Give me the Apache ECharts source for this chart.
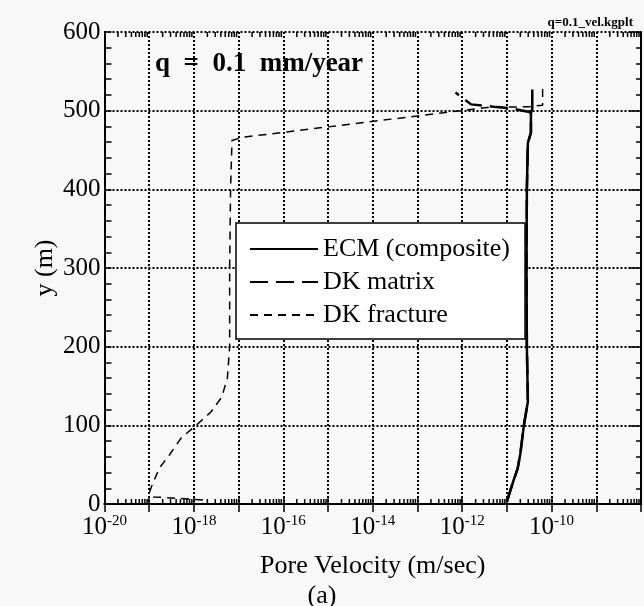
<!DOCTYPE html>
<html><head><meta charset="utf-8">
<script src="https://cdn.jsdelivr.net/npm/echarts@6/dist/echarts.min.js"></script>
<style>html,body{margin:0;padding:0;background:#f8f8f8}#c{width:644px;height:606px}</style>
</head><body><div id="c"></div>
<script>
// ---- data (pore velocity in m/sec, elevation y in m) ----
const ecmVelocity = [1.0e-11, 1.41e-11, 1.74e-11, 2.0e-11, 2.4e-11, 2.95e-11, 2.8e-11, 2.75e-11, 2.8e-11, 2.95e-11, 3.45e-11, 3.45e-11, 3.7e-11, 3.7e-11];
const ecmY        = [3, 30, 45, 64, 100, 130, 200, 300, 400, 459, 472, 497, 503, 527];

const matrixVelocity = [1.0e-11, 1.41e-11, 1.74e-11, 2.0e-11, 2.4e-11, 2.95e-11, 2.8e-11, 2.75e-11, 2.8e-11, 2.95e-11, 3.45e-11, 3.45e-11, 1.26e-11, 5.0e-12, 1.58e-12, 7.1e-13];
const matrixY        = [3, 30, 45, 64, 100, 130, 200, 300, 400, 459, 472, 498, 503, 505, 508, 523];

const fractureVelocity = [1.6e-18, 5.0e-19, 1.26e-19, 1.0e-19, 1.12e-19, 1.7e-19, 2.8e-19, 5.2e-19, 1.12e-18, 2.4e-18, 4.2e-18, 5.6e-18, 6.3e-18, 6.3e-18, 6.6e-18, 7.1e-18, 1.17e-17, 3.5e-12, 3.2e-11, 6.3e-11, 6.3e-11];
const fractureY        = [5, 7, 9, 14, 22, 46, 62, 84, 100, 117, 136, 160, 200, 300, 400, 462, 466, 504, 505, 507, 528];

const xMin = 1e-20, xMax = 1e-8;
const yTicks = [0, 100, 200, 300, 400, 500, 600];
const decadeExponents = [-20, -19, -18, -17, -16, -15, -14, -13, -12, -11, -10, -9];
const minorMultipliers = [2, 3, 4, 5, 6, 7, 8, 9];
const legendNames = ['ECM (composite)', 'DK matrix', 'DK fracture'];

const minorTicks = [];
decadeExponents.forEach(e => minorMultipliers.forEach(m => minorTicks.push([m * Math.pow(10, e), 0])));

const pair = (xs, ys) => xs.map((x, i) => [x, ys[i]]);
const FONT = 'Liberation Serif';
const chart = echarts.init(document.getElementById('c'), null, {renderer: 'canvas'});

const baseX = {
  type: 'log', logBase: 10, min: xMin, max: xMax, interval: 1,
  axisLine: {show: true, lineStyle: {color: '#000', width: 2}},
  axisTick: {show: true, inside: true, length: 8, lineStyle: {color: '#000', width: 1.5}},
  minorTick: {show: false}
};
const baseY = {
  type: 'value', min: yTicks[0], max: yTicks[yTicks.length - 1], interval: 100,
  axisLine: {show: true, lineStyle: {color: '#000', width: 2}},
  minorTick: {show: true, splitNumber: 5, length: 6, lineStyle: {color: '#000', width: 1.5}}
};

chart.setOption({
  backgroundColor: '#f8f8f8',
  animation: false,
  grid: {left: 104.5, top: 32, right: -2, bottom: 102, containLabel: false},
  title: [
    {text: '(a)', left: 'center', top: 578, textStyle: {fontFamily: FONT, fontSize: 26, fontWeight: 'normal', color: '#000'}},
    {text: 'q  =  0.1  mm/year', left: 150, top: 46, textStyle: {fontFamily: FONT, fontSize: 27, fontWeight: 'bold', color: '#000'}},
    {text: 'q=0.1_vel.kgplt', right: 6, top: 11, textStyle: {fontFamily: FONT, fontSize: 13, fontWeight: 'bold', color: '#000'}}
  ],
  legend: {
    data: legendNames, orient: 'vertical', left: 236, top: 223,
    backgroundColor: '#fff', borderColor: '#000', borderWidth: 1.5,
    padding: [13, 15, 11, 13], itemWidth: 68, itemHeight: 14, itemGap: 7,
    itemStyle: {color: 'rgba(0,0,0,0)', borderWidth: 0, borderColor: 'rgba(0,0,0,0)'},
    textStyle: {fontFamily: FONT, fontSize: 26, lineHeight: 26, color: '#000'},
    selectedMode: false
  },
  xAxis: [
    Object.assign({}, baseX, {
      position: 'bottom',
      name: 'Pore Velocity (m/sec)', nameLocation: 'middle', nameGap: 49, nameMoveOverlap: false,
      nameTextStyle: {fontFamily: FONT, fontSize: 26, color: '#000'},
      axisLabel: {
        show: true, margin: 10,
        formatter: v => {
          const e = Math.round(Math.log10(v));
          if (e % 2 !== 0 || e === -8) return '';
          return '{b|10}{s|' + e + '}';
        },
        rich: {
          b: {fontFamily: FONT, fontSize: 25, color: '#000', lineHeight: 26},
          s: {fontFamily: FONT, fontSize: 15, color: '#000', verticalAlign: 'top', lineHeight: 14}
        }
      },
      splitLine: {show: true, lineStyle: {color: '#000', width: 2, type: [2, 2]}}
    }),
    Object.assign({}, baseX, {
      position: 'top', axisLabel: {show: false}, splitLine: {show: false}
    })
  ],
  yAxis: [
    Object.assign({}, baseY, {
      position: 'left',
      name: 'y (m)', nameLocation: 'middle', nameGap: 46, nameRotate: 90, nameMoveOverlap: false,
      nameTextStyle: {fontFamily: FONT, fontSize: 26, color: '#000'},
      axisTick: {show: true, inside: true, length: 7, lineStyle: {color: '#000', width: 1.5}},
      minorTick: {show: true, splitNumber: 5, length: 7, lineStyle: {color: '#000', width: 1.5}},
      axisLabel: {show: true, margin: 4, fontFamily: FONT, fontSize: 25, color: '#000'},
      splitLine: {show: true, lineStyle: {color: '#000', width: 2, type: [2, 2]}}
    }),
    Object.assign({}, baseY, {
      position: 'right',
      axisTick: {show: true, inside: true, length: 12, lineStyle: {color: '#000', width: 1.5}},
      minorTick: {show: true, splitNumber: 5, length: 5, lineStyle: {color: '#000', width: 1.5}},
      axisLabel: {show: false}, splitLine: {show: false}
    })
  ],
  series: [
    {
      name: 'ECM (composite)', type: 'line', data: pair(ecmVelocity, ecmY),
      showSymbol: false, symbol: 'none', z: 5,
      lineStyle: {color: '#000', width: 2.5, type: 'solid'}, itemStyle: {color: '#000'}
    },
    {
      name: 'DK matrix', type: 'line', data: pair(matrixVelocity, matrixY),
      showSymbol: false, symbol: 'none', z: 4,
      lineStyle: {color: '#000', width: 2.5, type: [18, 8]}, itemStyle: {color: '#000'}
    },
    {
      name: 'DK fracture', type: 'line', data: pair(fractureVelocity, fractureY),
      showSymbol: false, symbol: 'none', z: 4,
      lineStyle: {color: '#000', width: 1.5, type: [8, 6]}, itemStyle: {color: '#000'}
    },
    {
      name: 'minorTicks', type: 'custom', data: minorTicks, silent: true, z: 6,
      encode: {x: 0, y: 1},
      renderItem: (params, api) => {
        const v = api.value(0);
        const pb = api.coord([v, yTicks[0]]);
        const pt = api.coord([v, yTicks[yTicks.length - 1]]);
        return {type: 'group', children: [
          {type: 'line', shape: {x1: pb[0], y1: pb[1], x2: pb[0], y2: pb[1] - 5}, style: {stroke: '#000', lineWidth: 1.5}},
          {type: 'line', shape: {x1: pt[0], y1: pt[1], x2: pt[0], y2: pt[1] + 5}, style: {stroke: '#000', lineWidth: 1.5}}
        ]};
      }
    }
  ]
});
</script>
</body></html>
